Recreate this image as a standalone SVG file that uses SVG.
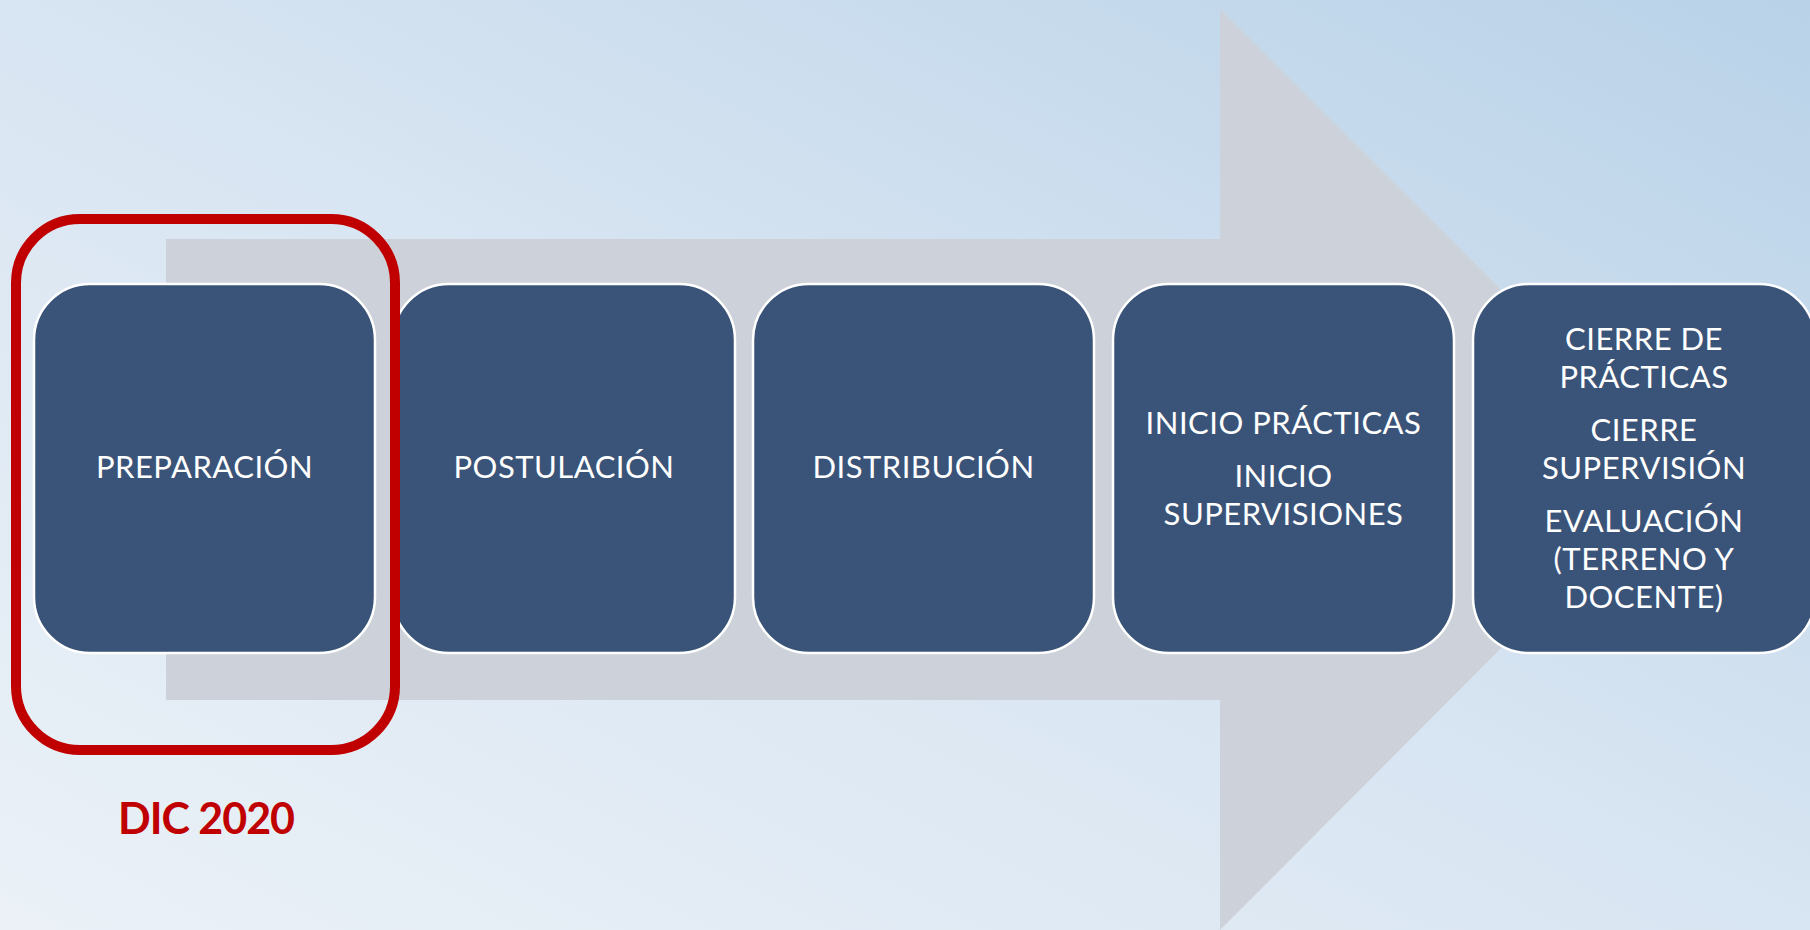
<svg xmlns="http://www.w3.org/2000/svg" width="1810" height="930" viewBox="0 0 1810 930">
  <defs>
    <linearGradient id="bg" x1="1" y1="0" x2="0" y2="1">
      <stop offset="0" stop-color="#B9D2E8"/>
      <stop offset="0.5" stop-color="#D8E5F2"/>
      <stop offset="1" stop-color="#EBF1F7"/>
    </linearGradient>
    <style>
      .box { fill: #3A5378; stroke: #FFFFFF; stroke-width: 2.5; }
      .lbl { font-family: Lato, "Open Sans", "Liberation Sans", sans-serif; font-weight: 400; font-size: 31px; fill: #FFFFFF; text-anchor: middle; letter-spacing: 0.5px; }
    </style>
  </defs>
  <rect x="0" y="0" width="1810" height="930" fill="url(#bg)"/>
  <g id="arrow">
    <polygon points="166,239 1220,239 1220,9 1680,469 1220,930 1220,700 166,700" fill="#CDD1D9"/>
  </g>
  <g id="connectors"></g>
  <g id="node-preparacion">
    <rect class="box" x="34" y="284" width="341" height="369" rx="56" ry="56"/>
    <text class="lbl" x="204.5" y="478">PREPARACIÓN</text>
  </g>
  <g id="node-postulacion">
    <rect class="box" x="393" y="284" width="342" height="369" rx="56" ry="56"/>
    <text class="lbl" x="564" y="478">POSTULACIÓN</text>
  </g>
  <g id="node-distribucion">
    <rect class="box" x="753" y="284" width="341" height="369" rx="56" ry="56"/>
    <text class="lbl" x="923.5" y="478">DISTRIBUCIÓN</text>
  </g>
  <g id="node-inicio">
    <rect class="box" x="1113" y="284" width="341" height="369" rx="56" ry="56"/>
    <text class="lbl" x="1283.5" y="434">INICIO PRÁCTICAS</text>
    <text class="lbl" x="1283.5" y="487">INICIO</text>
    <text class="lbl" x="1283.5" y="525">SUPERVISIONES</text>
  </g>
  <g id="node-cierre">
    <rect class="box" x="1473" y="284" width="342" height="369" rx="56" ry="56"/>
    <text class="lbl" x="1644" y="350">CIERRE DE</text>
    <text class="lbl" x="1644" y="388">PRÁCTICAS</text>
    <text class="lbl" x="1644" y="441">CIERRE</text>
    <text class="lbl" x="1644" y="479">SUPERVISIÓN</text>
    <text class="lbl" x="1644" y="532">EVALUACIÓN</text>
    <text class="lbl" x="1644" y="570">(TERRENO Y</text>
    <text class="lbl" x="1644" y="608">DOCENTE)</text>
  </g>
  <g id="highlight">
    <rect x="16" y="219" width="379" height="531" rx="64" ry="64" fill="none" stroke="#C00000" stroke-width="10"/>
    <text x="206" y="834" font-family="Lato, 'Open Sans', 'Liberation Sans', sans-serif" font-weight="bold" font-size="43" letter-spacing="-1" fill="#C00000" text-anchor="middle">DIC 2020</text>
  </g>
</svg>
